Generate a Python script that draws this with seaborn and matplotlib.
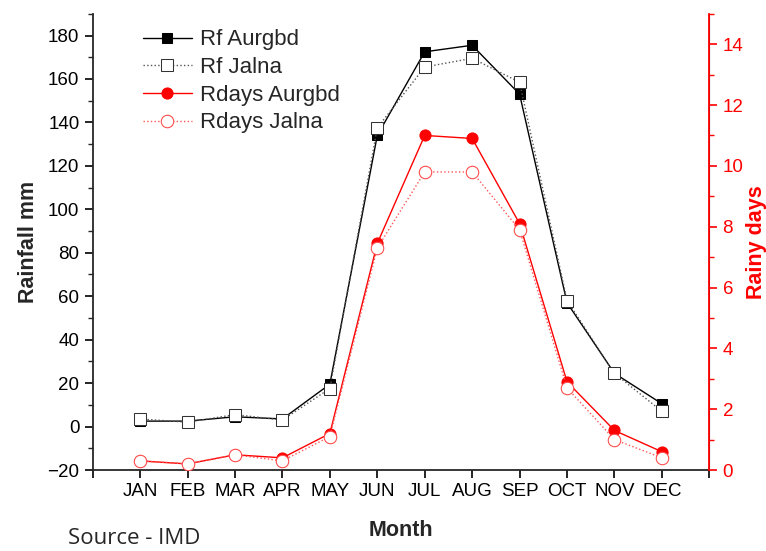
import pandas as pd
import matplotlib.pyplot as plt
import seaborn as sns

sns.set_style('ticks')
plt.rcParams['font.family'] = ['Liberation Sans', 'DejaVu Sans']

# 数据
months = ['JAN', 'FEB', 'MAR', 'APR', 'MAY', 'JUN', 'JUL', 'AUG', 'SEP', 'OCT', 'NOV', 'DEC']
rf_aurgbd = [2.5, 2.5, 4.5, 3.5, 19.5, 134, 172.5, 175.5, 153, 57, 24.5, 10.5]
rf_jalna = [3.5, 2, 5.5, 3, 17.5, 137.5, 165.5, 169.5, 158.5, 58, 24.5, 7]
rdays_aurgbd = [0.3, 0.2, 0.5, 0.4, 1.2, 7.45, 11.0, 10.9, 8.1, 2.9, 1.3, 0.6]
rdays_jalna = [0.3, 0.2, 0.5, 0.3, 1.1, 7.3, 9.8, 9.8, 7.9, 2.7, 1.0, 0.4]

df = pd.DataFrame({'m': range(1, 13), 'rf_a': rf_aurgbd, 'rf_j': rf_jalna,
                   'rd_a': rdays_aurgbd, 'rd_j': rdays_jalna})

fig = plt.figure(figsize=(7.66, 5.51), dpi=100)
ax = fig.add_axes([0.121, 0.147, 0.805, 0.828])
ax2 = ax.twinx()

sns.lineplot(data=df, x='m', y='rf_a', ax=ax, color='black', lw=1, marker='s',
             markersize=7, markerfacecolor='black', markeredgecolor='black',
             label='Rf Aurgbd', legend=False)
sns.lineplot(data=df, x='m', y='rf_j', ax=ax, color='#555555', lw=1, ls=':', marker='s',
             markersize=8, markerfacecolor='white', markeredgecolor='#333333',
             label='Rf Jalna', legend=False)
sns.lineplot(data=df, x='m', y='rd_a', ax=ax2, color='red', lw=1, marker='o',
             markersize=8, markerfacecolor='red', markeredgecolor='red',
             label='Rdays Aurgbd', legend=False)
sns.lineplot(data=df, x='m', y='rd_j', ax=ax2, color='#ff5555', lw=1, ls=':', marker='o',
             markersize=9, markerfacecolor='white', markeredgecolor='#ff4444',
             label='Rdays Jalna', legend=False)

ax.set_xlim(0, 13)
ax.set_ylim(-20, 190)
ax2.set_ylim(0, 15)
ax.set_xticks(range(0, 14))
ax.set_xticklabels([''] + months + [''])
ax.set_yticks(range(-20, 181, 20))
ax.set_yticks(range(-20, 191, 10), minor=True)
ax2.set_yticks(range(0, 15, 2))
ax2.set_yticks(range(0, 16, 1), minor=True)

for a in (ax, ax2):
    a.spines['top'].set_visible(False)
ax2.spines['left'].set_visible(False)
ax2.spines['right'].set_color('red')
ax2.spines['bottom'].set_visible(False)
for s in ('left', 'bottom'):
    ax.spines[s].set_linewidth(1.3)
ax2.spines['right'].set_linewidth(1.3)

ax.tick_params(axis='both', which='major', labelsize=13.5, length=6, width=1.2, colors='black')
ax.tick_params(axis='y', which='minor', length=3.5, width=1.0)
ax2.tick_params(axis='y', which='major', labelsize=13.5, length=6, width=1.2, colors='red')
ax2.tick_params(axis='y', which='minor', length=3.5, width=1.0, colors='red')

ax.set_xlabel('Month', fontsize=15.5, fontweight='bold', labelpad=14)
ax.set_ylabel('Rainfall mm', fontsize=15.5, fontweight='bold', labelpad=6)
ax2.set_ylabel('Rainy days', fontsize=15.5, fontweight='bold', color='red', labelpad=2)

h1, l1 = ax.get_legend_handles_labels()
h2, l2 = ax2.get_legend_handles_labels()
ax2.legend(h1 + h2, l1 + l2, loc='upper left', bbox_to_anchor=(0.06, 0.995), frameon=False,
           fontsize=16, handlelength=2.2, handletextpad=0.35, labelspacing=0.3,
           borderaxespad=0.2)

fig.text(0.089, 0.013, 'Source - IMD', fontsize=16, family=['Open Sans', 'DejaVu Sans'])

plt.savefig('out.png', dpi=100)
